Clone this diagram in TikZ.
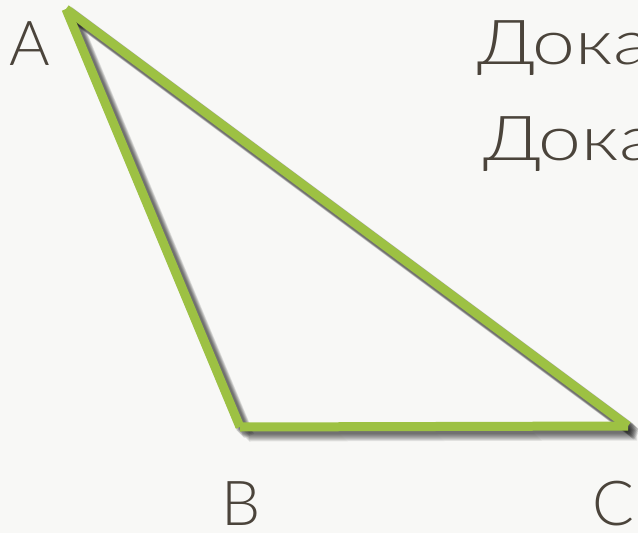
\documentclass[tikz,border=0pt]{standalone}
\usepackage{fontspec}
\IfFontExistsTF{Lato Light}{\setmainfont{Lato Light}}{\setmainfont{Lato}}
\definecolor{sidegreen}{HTML}{9DC143}
\definecolor{labelbrown}{HTML}{4B443B}
\definecolor{paper}{HTML}{F8F8F6}
\tikzset{
    side/.style={sidegreen, line width=9pt},
    sideshadow/.style={black, line width=11pt, opacity=0.09},
    vertex/.style={labelbrown, font=\fontsize{62}{74}\selectfont, inner sep=0pt, text depth=0pt, anchor=base west},
    task/.style={labelbrown, font=\fontsize{62}{74}\selectfont, inner sep=0pt, text depth=0pt, anchor=base west, xscale=1.24}
}
\begin{document}
\begin{tikzpicture}[x=1pt, y=-1pt]
    \fill[paper] (0,0) rectangle (638,533);
    \useasboundingbox (0,0) rectangle (638,533);
    \clip (0,0) rectangle (638,533);

    \coordinate (A) at (66,9);
    \coordinate (B) at (240,427);
    \coordinate (C) at (628,426);

    % shadow under the sides
    \foreach \d in {2,3,...,9} {
        \draw[sideshadow] ([shift={(\d,\d)}]A) -- ([shift={(\d,\d)}]B);
        \draw[sideshadow] ([shift={(\d,\d)}]B) -- ([shift={(\d,\d)}]C);
        \draw[sideshadow] ([shift={(\d,\d)}]C) -- ([shift={(\d,\d)}]A);
    }

    % the triangle
    \draw[side] (A) -- (B);
    \draw[side] (B) -- (C);
    \draw[side] (C) -- (A);

    % vertex labels
    \node[vertex] (labA) at (9,65) {A};
    \node[vertex] (labB) at (221,525) {B};
    \node[vertex] (labC) at (592,525) {C};

    % text on the right
    \node[task] (line1) at (477,64) {Дока};
    \node[task] (line2) at (483,160) {Дока};
\end{tikzpicture}
\end{document}
